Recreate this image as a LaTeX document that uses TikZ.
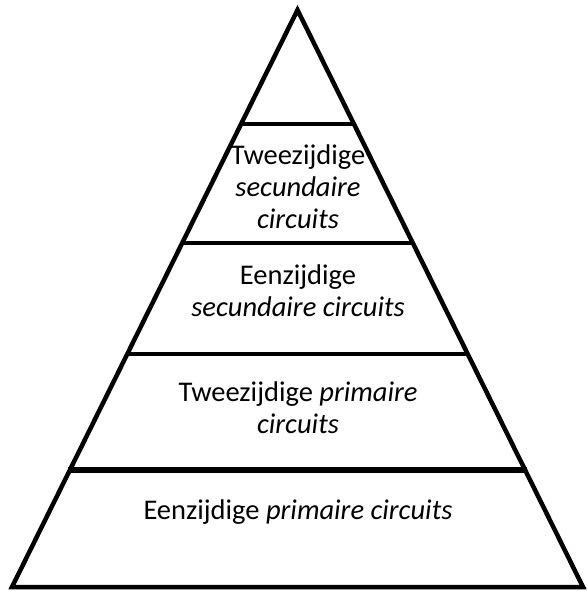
\documentclass[tikz,border=0pt]{standalone}
\usepackage{fontspec}
\setmainfont{Carlito}
\begin{document}
\begin{tikzpicture}[x=1pt,y=-1pt,
  edge/.style={line width=4.5pt,line join=miter},
  tier/.style={line width=4pt},
  lbl/.style={align=center,font=\fontsize{28.5}{32}\selectfont,inner sep=0pt}]
\useasboundingbox[fill=white] (0,0) rectangle (586,591);
\coordinate (apex) at (297.5,10);
\coordinate (bl) at (12,587);
\coordinate (br) at (583,587);
\draw[edge] (apex) -- (br) -- (bl) -- cycle;
\coordinate (l1) at (240,124); \coordinate (r1) at (355,124);
\coordinate (l2) at (181,243); \coordinate (r2) at (414,243);
\coordinate (l3) at (126,354); \coordinate (r3) at (469,354);
\coordinate (l4) at (68,470);  \coordinate (r4) at (527,470);
\draw[tier] (l1) -- (r1);
\draw[tier] (l2) -- (r2);
\draw[tier] (l3) -- (r3);
\draw[line width=6.5pt] (l4) -- (r4);
\node[lbl] (t1) at (298,187) {Tweezijdige\\\textit{secundaire}\\\textit{circuits}};
\node[lbl] (t2) at (298,291) {Eenzijdige\\\textit{secundaire circuits}};
\node[lbl] (t3) at (298,408) {Tweezijdige \textit{primaire}\\\textit{circuits}};
\node[lbl] (t4) at (298,512) {Eenzijdige \textit{primaire circuits}};
\end{tikzpicture}
\end{document}
